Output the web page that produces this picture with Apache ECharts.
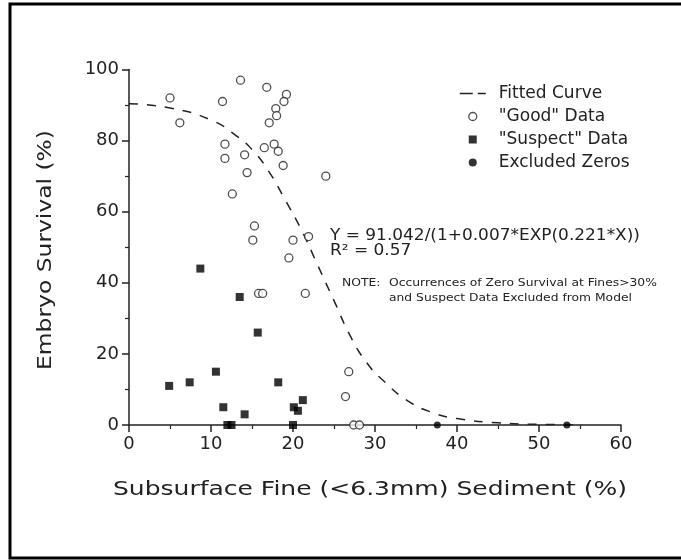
<!DOCTYPE html>
<html>
<head>
<meta charset="utf-8">
<script src="https://cdn.jsdelivr.net/npm/echarts@6/dist/echarts.min.js"></script>
<style>
html,body{margin:0;padding:0;background:#fff;}
#main{width:681px;height:560px;}
</style>
</head>
<body>
<div id="main"></div>
<script>
// fitted curve
var curveX=[0,5,10,13,15,17,19,21,23,25,27,29,31,34,37,40,45,50,55];
var curveY=[90.4,89.2,85.8,81.5,77.5,71.5,63.5,55,45,35,25,17.5,12.5,6.8,3.5,1.8,0.6,0.2,0.1];

// "good" data (open circles)
var goodX=[5.0,6.2,11.4,13.6,16.8,19.2,18.9,17.9,18.0,17.1,11.7,11.7,14.1,16.5,17.7,18.2,18.8,14.4,24.0,12.6,15.3,15.1,20.0,21.9,19.5,15.8,16.3,21.5,26.8,26.4,27.4,28.1];
var goodY=[92,85,91,97,95,93,91,89,87,85,79,75,76,78,79,77,73,71,70,65,56,52,52,53,47,37,37,37,15,8,0,0];

// "suspect" data (filled squares)
var suspX=[4.9,7.4,8.7,10.6,13.5,11.5,12.0,12.5,14.1,15.7,18.2,20.1,20.6,21.2,20.0];
var suspY=[11,12,44,15,36,5,0,0,3,26,12,5,4,7,0];

// excluded zeros (filled dots)
var zeroX=[37.6,53.4];
var zeroY=[0,0];

var xTicks=[0,10,20,30,40,50,60];
var yTicks=[0,20,40,60,80,100];

function pairs(a,b){
	var out=[];
	for (var i = 0; i < a.length; i++) {
		out.push([a[i],b[i]]);
	}
	return out;
}

var font='"DejaVu Sans"';
var ink='#222';

var myChart=echarts.init(document.getElementById('main'),null,{renderer:'canvas'});

var axisCommon={
	axisLine:{lineStyle:{color:ink,width:1.5}},
	axisTick:{length:7,lineStyle:{color:ink,width:1.5}},
	minorTick:{show:true,splitNumber:2,length:4,lineStyle:{color:ink,width:1.2}},
	splitLine:{show:false},
	axisLabel:{fontFamily:font,fontSize:18,color:ink}
};

//text blocks drawn as graphic, scaleX to get the wide plotter font look
function txt(x,y,s,size,sx,extra){
	var t={type:'text',x:x,y:y,scaleX:sx,
		style:{text:s,font:size+'px '+font,fill:ink,verticalAlign:'middle'}};
	if (extra) echarts.util.merge(t,extra,true);
	return t;
}

var option={
	backgroundColor:'#fff',
	animation:false,
	grid:{left:129,right:60,top:69.5,bottom:135,containLabel:false},
	xAxis:echarts.util.merge({
		type:'value',min:xTicks[0],max:xTicks[xTicks.length-1],interval:10,
		axisLabel:{margin:10}
	},axisCommon,false),
	yAxis:echarts.util.merge({
		type:'value',min:yTicks[0],max:yTicks[yTicks.length-1],interval:20,
		axisLabel:{margin:10}
	},axisCommon,false),
	legend:{
		orient:'vertical',
		left:454,
		top:80,
		itemWidth:26,
		itemHeight:8,
		itemGap:6,
		textStyle:{fontFamily:font,fontSize:17,color:ink,padding:[0,0,0,8]},
		data:[
			{name:'Fitted Curve',lineStyle:{type:[13,5],width:1.5,color:ink},
				itemStyle:{color:'rgba(0,0,0,0)',borderWidth:0}},
			{name:'"Good" Data',icon:'circle',
				itemStyle:{color:'#fff',borderColor:ink,borderWidth:1.3}},
			{name:'"Suspect" Data',icon:'path://M0,0h8v8h-8z'},
			{name:'Excluded Zeros',icon:'circle'}
		]
	},
	series:[
		{
			name:'Fitted Curve',type:'line',smooth:true,symbol:'none',
			data:pairs(curveX,curveY),
			lineStyle:{color:ink,width:1.5,type:[9,9]},
			itemStyle:{color:ink},z:1
		},
		{
			name:'"Good" Data',type:'scatter',symbol:'circle',symbolSize:8,
			data:pairs(goodX,goodY),
			itemStyle:{color:'#fff',borderColor:ink,borderWidth:1.3},z:3
		},
		{
			name:'"Suspect" Data',type:'scatter',symbol:'rect',symbolSize:8,
			data:pairs(suspX,suspY),
			itemStyle:{color:'#000'},z:3
		},
		{
			name:'Excluded Zeros',type:'scatter',symbol:'circle',symbolSize:7,
			data:pairs(zeroX,zeroY),
			itemStyle:{color:'#000'},z:3
		}
	],
	graphic:[
		{type:'rect',shape:{x:10,y:4,width:690,height:554},
			style:{fill:null,stroke:'#000',lineWidth:3},silent:true,z:-1},
		txt(370,490,'Subsurface Fine (<6.3mm) Sediment (%)',20,1.25,{style:{align:'center'}}),
		txt(46,250,'Embryo Survival (%)',20,1.17,{rotation:Math.PI/2,style:{align:'center'}}),
		txt(330,236,'Y = 91.042/(1+0.007*EXP(0.221*X))',15,1.13),
		txt(330,251,'R² = 0.57',15,1.13),
		txt(342,283,'NOTE:',11,1.12),
		txt(389,283,'Occurrences of Zero Survival at Fines>30%',11,1.12),
		txt(389,298,'and Suspect Data Excluded from Model',11,1.12)
	]
};

myChart.setOption(option);
</script>
</body>
</html>
